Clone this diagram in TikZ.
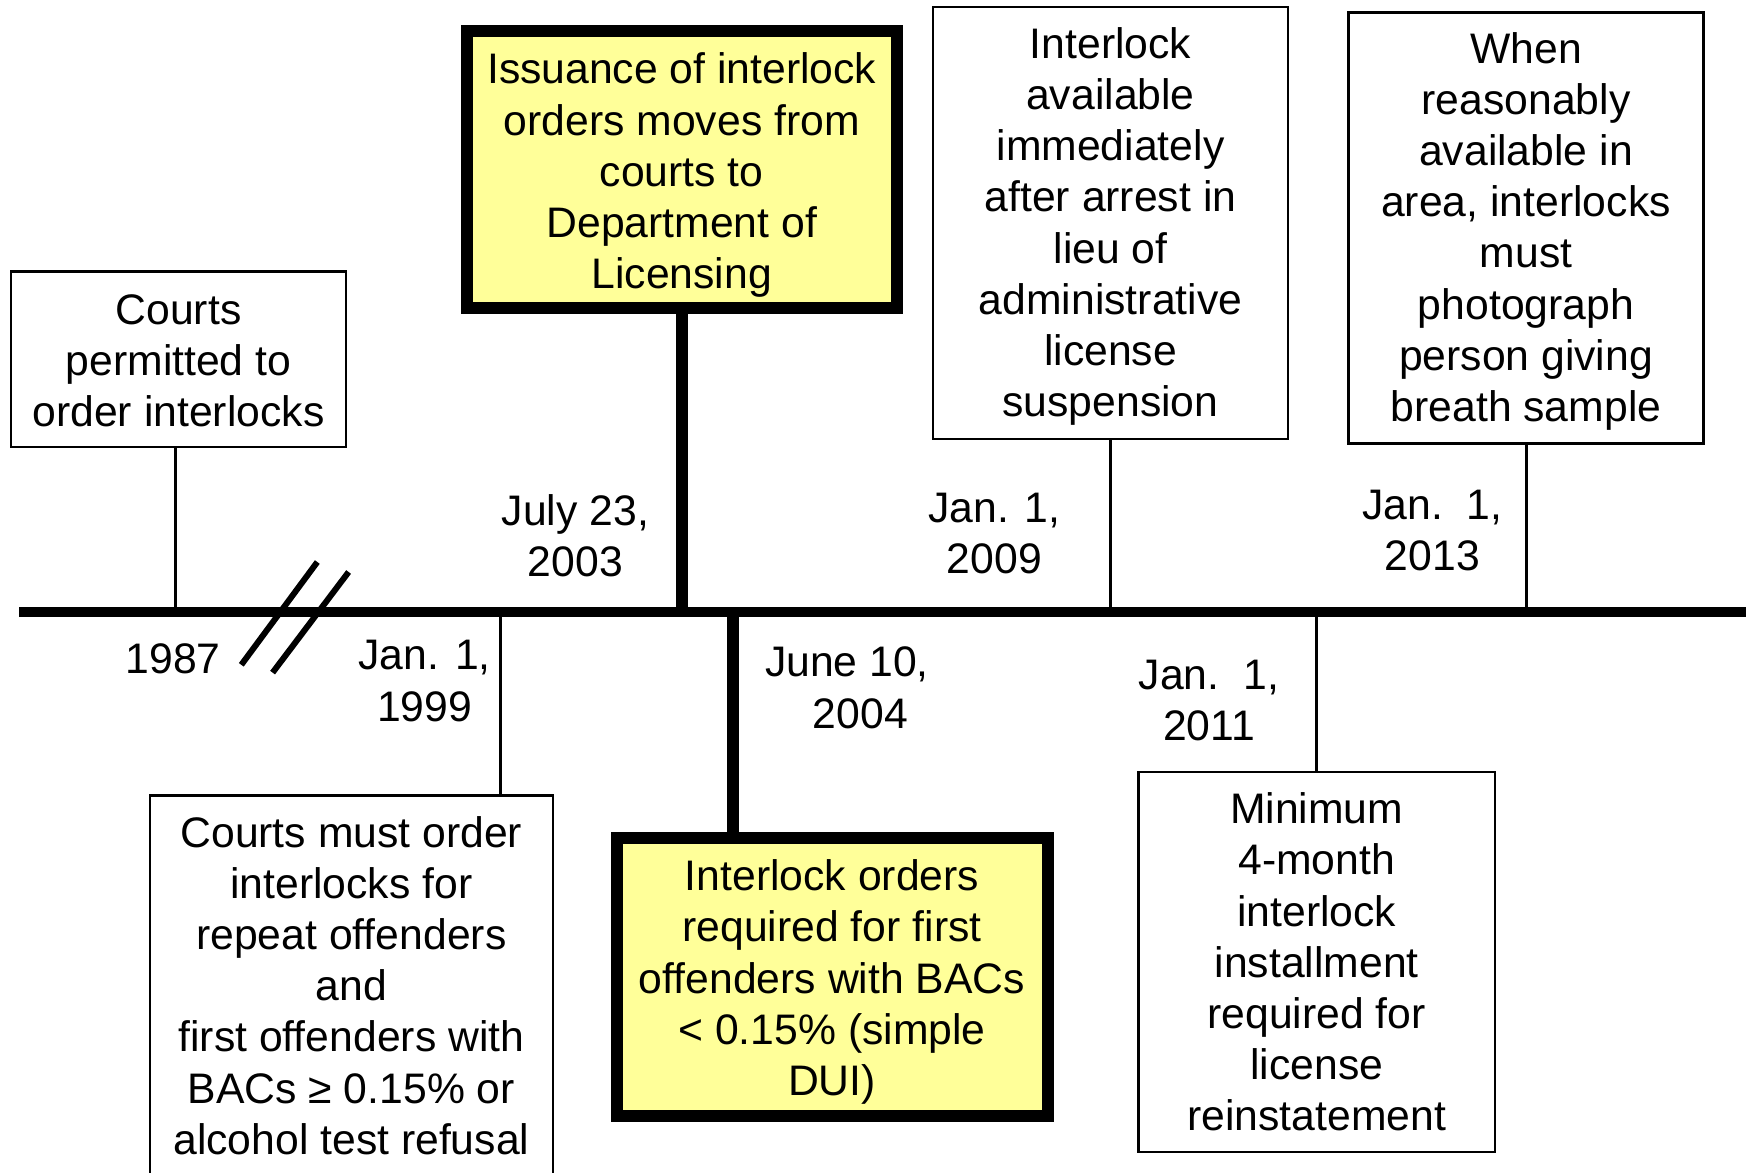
\documentclass[tikz,border=0pt]{standalone}
\usepackage{fontspec}
\setmainfont{Liberation Sans}
\definecolor{boxyellow}{HTML}{FFFF99}
\begin{document}
\begin{tikzpicture}[x=1pt,y=-1pt,
  txt/.style={font=\fontsize{42.7}{51.2}\selectfont, align=center, inner sep=0pt},
  thinbox/.style={draw, line width=2.5pt, fill=white, inner sep=0pt},
  thickbox/.style={draw, line width=12pt, fill=boxyellow, inner sep=0pt},
  thinline/.style={line width=3pt},
  thickline/.style={line width=12pt},
  axisline/.style={line width=10.5pt},
  breakline/.style={line width=6pt}
]
\useasboundingbox (0,0) rectangle (1752,1172);
\clip (0,0) rectangle (1752,1172);

% boxes above the line
\node[thinbox, minimum width=335pt, minimum height=175.5pt] (a) at (178.5,359) {};
\node[txt] (at) at ([yshift=-1.7pt]a.center) {Courts\\permitted to\\order interlocks};
\node[thickbox, minimum width=430.5pt, minimum height=276.6pt] (b) at (681.75,169.5) {};
\node[txt] (bt) at ([yshift=-5.7pt]b.center) {Issuance of interlock\\orders moves from\\courts to\\Department of\\Licensing};
\node[thinbox, minimum width=355pt, minimum height=432pt] (c) at (1110.5,223) {};
\node[txt] (ct) at ([yshift=-3.5pt]c.center) {Interlock\\available\\immediately\\after arrest in\\lieu of\\administrative\\license\\suspension};
\node[thinbox, minimum width=355pt, minimum height=431pt] (d) at (1526,228) {};
\node[txt] (dt) at ([yshift=-3.3pt]d.center) {When\\reasonably\\available in\\area, interlocks\\must\\photograph\\person giving\\breath sample};

% boxes below the line
\node[thinbox, minimum width=403pt, minimum height=380pt] (e) at (351.3,985.5) {};
\node[txt] (et) at (e.center) {Courts must order\\interlocks for\\repeat offenders\\and\\first offenders with\\BACs ≥ 0.15\% or\\alcohol test refusal};
\node[thickbox, minimum width=431pt, minimum height=278pt] (f) at (832,977) {};
\node[txt] (ft) at ([yshift=-5pt]f.center) {Interlock orders\\required for first\\offenders with BACs\\< 0.15\% (simple\\DUI)};
\node[thinbox, minimum width=356.5pt, minimum height=380pt] (g) at (1316.7,962) {};
\node[txt] (gt) at (g.center) {Minimum\\4-month\\interlock\\installment\\required for\\license\\reinstatement};

% timeline
\coordinate (tl) at (19,612);
\coordinate (tr) at (1746,612);
\coordinate (aa) at (175.4,612);
\coordinate (ea) at (500.5,612);
\coordinate (fa) at (733,612);

% connectors
\draw[thinline] (aa) -- (aa |- a.south);
\draw[thickline] (b.south) -- (b.south |- tl);
\draw[thinline] (c.south) -- (c.south |- tl);
\draw[thinline] (d.south) -- (d.south |- tl);
\draw[thinline] (ea) -- (ea |- e.north);
\draw[thickline] (fa) -- (fa |- f.north);
\draw[thinline] (g.north) -- (g.north |- tl);

\draw[axisline] (tl) -- (tr);

% break marks
\coordinate (s1a) at (241.3,664.8);
\coordinate (s1b) at (317.3,562);
\coordinate (s2a) at (272.6,672.6);
\coordinate (s2b) at (348.6,572);
\draw[breakline] (s1a) -- (s1b);
\draw[breakline] (s2a) -- (s2b);

% date labels
\node[txt] (l1987) at (173.2,659.2) {1987};
\node[txt] (l1999) at (424.6,681) {Jan. 1,\\1999};
\node[txt] (l2003) at (575.4,535.7) {July 23,\\2003};
\node[txt] (l2004) at (846.9,687.7) {June 10,\\\hspace*{27pt}2004};
\node[txt] (l2009) at (994.4,533.5) {Jan. 1,\\2009};
\node[txt] (l2011) at (1208.9,700.5) {Jan.\ \ 1,\\2011};
\node[txt] (l2013) at (1432.4,530.7) {Jan.\ \ 1,\\2013};
\end{tikzpicture}
\end{document}
